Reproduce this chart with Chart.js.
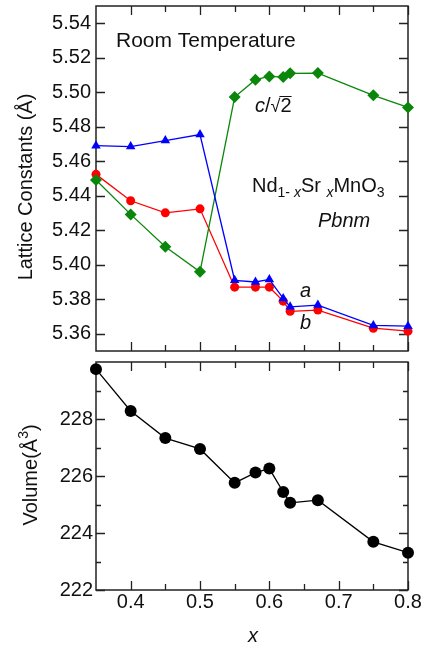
<!DOCTYPE html>
<html>
<head>
<meta charset="utf-8">
<script src="https://cdn.jsdelivr.net/npm/chart.js@4.4.1/dist/chart.umd.min.js"></script>
<style>
  body { margin: 0; background: #fff; }
  #wrap { position: relative; width: 424px; height: 646px; }
  #topChart { position: absolute; left: 0; top: 0; }
  #botChart { position: absolute; left: 0; top: 355px; }
</style>
</head>
<body>
<div id="wrap">
  <canvas id="topChart" width="424" height="358"></canvas>
  <canvas id="botChart" width="424" height="291"></canvas>
</div>
<script>
// Sr content x
const xVals = [0.35, 0.40, 0.45, 0.50, 0.55, 0.58, 0.60, 0.62, 0.63, 0.67, 0.75, 0.80];
// lattice constants (Å)
const aVals = [5.469, 5.4685, 5.472, 5.4755, 5.391, 5.390, 5.3915, 5.3805, 5.3756, 5.3766, 5.3648, 5.3644];
const bVals = [5.4524, 5.4371, 5.4301, 5.4324, 5.387, 5.387, 5.387, 5.3789, 5.373, 5.3737, 5.3632, 5.3615];
const cVals = [5.4491, 5.4292, 5.4104, 5.3959, 5.4972, 5.5073, 5.5092, 5.5088, 5.511, 5.5111, 5.4982, 5.4912];
// cell volume (Å^3)
const volVals = [229.75, 228.28, 227.33, 226.95, 225.76, 226.12, 226.26, 225.44, 225.06, 225.15, 223.69, 223.31];

// ticks
const xTicks = [0.4, 0.5, 0.6, 0.7, 0.8];
const xMinorTicks = [0.45, 0.55, 0.65, 0.75];
const latTicks = [5.36, 5.38, 5.40, 5.42, 5.44, 5.46, 5.48, 5.50, 5.52, 5.54];
const volTicks = [222, 224, 226, 228];
const volMinorTicks = [223, 225, 227, 229];

const FONT = '"Liberation Sans", Arial, Helvetica, sans-serif';

function pts(ys) {
  return xVals.map((x, i) => ({ x: x, y: ys[i] }));
}

// cadre + graduations vers l'intérieur
const framePlugin = {
  id: 'frame',
  beforeDatasetsDraw(chart, args, opts) {
    const ctx = chart.ctx;
    const a = chart.chartArea;
    const sx = chart.scales.x, sy = chart.scales.y;
    ctx.save();
    ctx.strokeStyle = '#222';
    ctx.lineWidth = 1.5;
    ctx.strokeRect(a.left, a.top, a.right - a.left, a.bottom - a.top);
    ctx.lineWidth = 1.3;
    ctx.beginPath();
    const xt = (v, len) => {
      const p = Math.round(sx.getPixelForValue(v)) + 0.5;
      ctx.moveTo(p, a.bottom); ctx.lineTo(p, a.bottom - len);
      ctx.moveTo(p, a.top); ctx.lineTo(p, a.top + len);
    };
    const yt = (v, len) => {
      const p = Math.round(sy.getPixelForValue(v)) + 0.5;
      ctx.moveTo(a.left, p); ctx.lineTo(a.left + len, p);
      ctx.moveTo(a.right, p); ctx.lineTo(a.right - len, p);
    };
    opts.xMajor.forEach(v => xt(v, 9));
    opts.xMinor.forEach(v => xt(v, 6));
    opts.yMajor.forEach(v => yt(v, 9));
    opts.yMinor.forEach(v => yt(v, 5));
    ctx.stroke();
    ctx.restore();
  }
};

// écrit une suite de morceaux de texte [texte, police, décalage vertical]
function seq(ctx, x, y, parts) {
  parts.forEach(p => {
    ctx.font = p[1];
    ctx.fillText(p[0], x, y + (p[2] || 0));
    x += ctx.measureText(p[0]).width;
  });
  return x;
}

const N = '20px ' + FONT, I = 'italic 20px ' + FONT;
const S = '14px ' + FONT, SI = 'italic 14px ' + FONT;

const topLabels = {
  id: 'topLabels',
  afterDraw(chart) {
    const ctx = chart.ctx;
    ctx.save();
    ctx.fillStyle = '#111';
    ctx.textBaseline = 'alphabetic';
    ctx.textAlign = 'left';
    ctx.font = '21px ' + FONT;
    ctx.fillText('Room Temperature', 116, 47);
    // c/sqrt(2)
    let x = seq(ctx, 255, 112, [['c', I], ['/', N]]);
    ctx.font = '18px ' + FONT;
    ctx.fillText('\u221A', x, 112);
    x += ctx.measureText('\u221A').width;
    ctx.font = N;
    ctx.fillText('2', x, 112);
    const w2 = ctx.measureText('2').width;
    ctx.beginPath();
    ctx.lineWidth = 1;
    ctx.strokeStyle = '#111';
    ctx.moveTo(x - 1, 96.5); ctx.lineTo(x + w2, 96.5);
    ctx.stroke();
    // formule
    seq(ctx, 252, 192, [['Nd', N], ['1- ', S, 5], ['x', SI, 5], ['Sr ', N], ['x', SI, 5], ['MnO', N], ['3', S, 5]]);
    ctx.font = I;
    ctx.fillText('Pbnm', 318, 227);
    ctx.fillText('a', 300, 297);
    ctx.fillText('b', 300, 329);
    // titre axe y
    ctx.translate(32, 187);
    ctx.rotate(-Math.PI / 2);
    ctx.textAlign = 'center';
    ctx.font = N;
    ctx.fillText('Lattice Constants (\u00C5)', 0, 0);
    ctx.restore();
  }
};

const botLabels = {
  id: 'botLabels',
  afterDraw(chart) {
    const ctx = chart.ctx;
    ctx.save();
    ctx.fillStyle = '#111';
    ctx.textBaseline = 'alphabetic';
    ctx.font = I;
    ctx.textAlign = 'center';
    ctx.fillText('x', 253, 287);
    ctx.textAlign = 'left';
    ctx.translate(37, 120);
    ctx.rotate(-Math.PI / 2);
    ctx.font = N;
    const w = ctx.measureText('Volume(\u00C5').width;
    ctx.font = S;
    const w3 = ctx.measureText('3').width;
    ctx.font = N;
    const wp = ctx.measureText(')').width;
    seq(ctx, -(w + w3 + wp) / 2, 0, [['Volume(\u00C5', N], ['3', S, -9], [')', N]]);
    ctx.restore();
  }
};

function yScale(min, max, ticks, pad) {
  return {
    type: 'linear', min: min, max: max,
    grid: { display: false, drawTicks: false }, border: { display: false },
    afterBuildTicks: s => { s.ticks = ticks.map(v => ({ value: v })); },
    afterFit: s => { s.width = 96; s.paddingTop = 0; s.paddingBottom = 0; },
    ticks: {
      padding: pad, color: '#111', font: { family: FONT, size: 20 },
      callback: v => pad === 5 ? v.toFixed(2) : String(v)
    }
  };
}

function xScale(h, showLabels) {
  return {
    type: 'linear', min: 0.35, max: 0.8,
    grid: { display: false, drawTicks: false }, border: { display: false },
    afterBuildTicks: s => { s.ticks = xTicks.map(v => ({ value: v })); },
    afterFit: s => { s.height = h; s.paddingLeft = 0; s.paddingRight = 0; },
    ticks: {
      display: showLabels, padding: 0, color: '#111', font: { family: FONT, size: 20 },
      callback: v => v.toFixed(1)
    }
  };
}

const lineDs = (data, color, style, r) => ({
  data: pts(data), borderColor: color, backgroundColor: color,
  borderWidth: 1.3, pointStyle: style, pointRadius: r, pointHoverRadius: r,
  pointBorderWidth: 0, tension: 0, clip: false
});

new Chart(document.getElementById('topChart'), {
  type: 'line',
  data: {
    datasets: [
      lineDs(aVals, '#0000ff', 'triangle', 5.5),
      lineDs(cVals, '#0a870a', 'rectRot', 6),
      lineDs(bVals, '#ff0000', 'circle', 4.5)
    ]
  },
  options: {
    responsive: false, animation: false, events: [],
    layout: { padding: { left: 0, right: 16, top: 5, bottom: 0 } },
    plugins: {
      legend: { display: false }, tooltip: { enabled: false },
      frame: { xMajor: xTicks, xMinor: xMinorTicks, yMajor: latTicks, yMinor: [] }
    },
    scales: { x: xScale(7, false), y: yScale(5.35, 5.55, latTicks, 5) }
  },
  plugins: [framePlugin, topLabels]
});

new Chart(document.getElementById('botChart'), {
  type: 'line',
  data: {
    datasets: [lineDs(volVals, '#000000', 'circle', 6)]
  },
  options: {
    responsive: false, animation: false, events: [],
    layout: { padding: { left: 0, right: 16, top: 7, bottom: 0 } },
    plugins: {
      legend: { display: false }, tooltip: { enabled: false },
      frame: { xMajor: xTicks, xMinor: xMinorTicks, yMajor: volTicks, yMinor: volMinorTicks }
    },
    scales: { x: xScale(56, true), y: yScale(222, 230, volTicks, 3) }
  },
  plugins: [framePlugin, botLabels]
});
</script>
</body>
</html>
